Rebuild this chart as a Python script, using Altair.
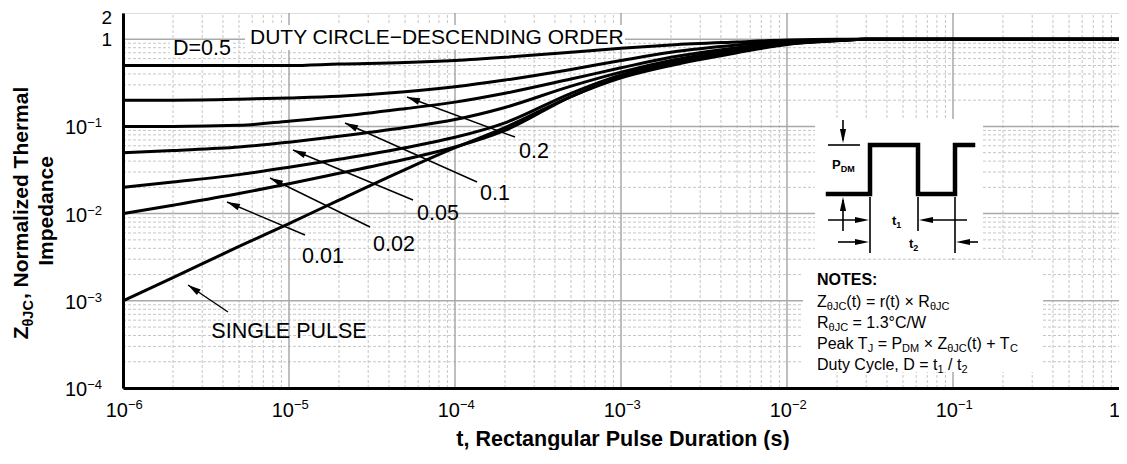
import math
import altair as alt
import pandas as pd

# ---------------- data ----------------
T = [1e-6, 2e-6, 5e-6, 1e-5, 2e-5, 5e-5, 1e-4, 2e-4, 5e-4, 1e-3, 2e-3, 5e-3, 1e-2, 2e-2, 3e-2, 1e-1, 1.0]
Z_D050 = [0.5, 0.5, 0.5, 0.5, 0.52, 0.54, 0.57, 0.62, 0.71, 0.79, 0.86, 0.93, 0.98, 1.0, 1.0, 1.0, 1.0]
Z_D020 = [0.2, 0.2, 0.205, 0.212, 0.222, 0.25, 0.285, 0.34, 0.45, 0.57, 0.71, 0.86, 0.95, 0.99, 1.0, 1.0, 1.0]
Z_D010 = [0.1, 0.1, 0.103, 0.115, 0.13, 0.16, 0.19, 0.24, 0.35, 0.47, 0.62, 0.80, 0.92, 0.98, 1.0, 1.0, 1.0]
Z_D005 = [0.05, 0.053, 0.058, 0.066, 0.077, 0.097, 0.12, 0.165, 0.29, 0.42, 0.57, 0.77, 0.90, 0.975, 1.0, 1.0, 1.0]
Z_D002 = [0.02, 0.023, 0.028, 0.034, 0.042, 0.057, 0.075, 0.11, 0.24, 0.39, 0.54, 0.74, 0.89, 0.97, 1.0, 1.0, 1.0]
Z_D001 = [0.01, 0.0125, 0.017, 0.022, 0.029, 0.042, 0.058, 0.09, 0.22, 0.37, 0.52, 0.72, 0.88, 0.965, 1.0, 1.0, 1.0]
Z_SINGLE = [0.001, 0.00185, 0.0042, 0.0077, 0.0143, 0.032, 0.057, 0.097, 0.22, 0.36, 0.50, 0.70, 0.87, 0.96, 1.0, 1.0, 1.0]
SERIES = ["0.5", "0.2", "0.1", "0.05", "0.02", "0.01", "single"]
SERIES_Z = [Z_D050, Z_D020, Z_D010, Z_D005, Z_D002, Z_D001, Z_SINGLE]

X_TICK_VALUES = [1e-6, 1e-5, 1e-4, 1e-3, 1e-2, 1e-1, 1.0]
X_TICK_EXP = ["\u22126", "\u22125", "\u22124", "\u22123", "\u22122", "\u22121", ""]
Y_TICK_VALUES = [1e-4, 1e-3, 1e-2, 1e-1, 1.0, 2.0]
Y_TICK_EXP = ["\u22124", "\u22123", "\u22122", "\u22121", "", ""]

ANNOT_LABELS = ["0.2", "0.1", "0.05", "0.02", "0.01", "SINGLE PULSE"]

# ---------------- layout ----------------
FONT = "Liberation Sans"
PAGE_LEFT, PAGE_TOP = 123, 13
W, H = 996, 375
PAD_LEFT = PAGE_LEFT - 8
XMIN, XMAX = 1e-6, 1.0
YMIN, YMAX = 1e-4, 2.0
LX0, LX1 = math.log10(XMIN), math.log10(XMAX)
LY0, LY1 = math.log10(YMIN), math.log10(YMAX)


def to_t(px):
    return 10 ** (LX0 + (LX1 - LX0) * (px - PAGE_LEFT) / W)


def to_z(py):
    return 10 ** (LY1 - (LY1 - LY0) * (py - PAGE_TOP) / H)


def px_of_t(t):
    return PAGE_LEFT + W * (math.log10(t) - LX0) / (LX1 - LX0)


def py_of_z(z):
    return PAGE_TOP + H * (LY1 - math.log10(z)) / (LY1 - LY0)


REG_W = {' ': 278, '(': 333, ')': 333, '+': 584, ',': 278, '-': 333, '.': 278, '/': 278, ':': 278,
         '=': 584, '\u00b0': 400, '\u00d7': 584, '\u2212': 584, '\u03b8': 556}
REG_W.update({c: w for c, w in zip("ABCDEFGHIJKLMNOPQRSTUVWXYZ",
             [667, 667, 722, 722, 667, 611, 778, 722, 278, 500, 667, 556, 833, 722, 778, 667, 778, 722, 667, 611, 722, 667, 944, 667, 667, 611])})
REG_W.update({c: w for c, w in zip("abcdefghijklmnopqrstuvwxyz",
             [556, 556, 500, 556, 556, 278, 556, 556, 222, 222, 500, 222, 833, 556, 556, 556, 556, 333, 500, 278, 556, 500, 722, 500, 500, 500])})
BOLD_W = {' ': 278, '(': 333, ')': 333, ',': 278, ':': 333, '\u03b8': 611}
BOLD_W.update({c: w for c, w in zip("ABCDEFGHIJKLMNOPQRSTUVWXYZ",
              [722, 722, 722, 722, 667, 611, 778, 722, 278, 556, 722, 611, 833, 722, 778, 667, 778, 722, 667, 611, 722, 667, 944, 667, 667, 611])})
BOLD_W.update({c: w for c, w in zip("abcdefghijklmnopqrstuvwxyz",
              [556, 611, 556, 611, 556, 333, 611, 611, 278, 278, 556, 278, 889, 611, 611, 611, 611, 389, 556, 333, 611, 556, 778, 556, 556, 500])})


def text_width(s, fs, bold=False):
    table = BOLD_W if bold else REG_W
    return sum(table.get(c, 556) for c in s) * fs / 1000.0


TEXT_ROWS = {k: [] for k in ["reg_left", "reg_right", "reg_center", "bold_left", "bold_center",
                              "bold_rot_left", "bold_rot_center"]}


def add_text(key, px, py, text, fs):
    TEXT_ROWS[key].append(dict(t=to_t(px), z=to_z(py), text=text, fs=fs))


def add_segments(key, x0, base, segs, bold=False):
    x = x0
    for txt, fs, dy in segs:
        lead = len(txt) - len(txt.lstrip(' '))
        body = txt.strip(' ')
        if body:
            add_text(key, x + text_width(' ' * lead, fs, bold), base + dy, body, fs)
        x += text_width(txt, fs, bold)


# ---- tick labels ----
for v, e in zip(X_TICK_VALUES, X_TICK_EXP):
    px = px_of_t(v)
    if e:
        add_text("reg_right", px + 5, 417, "10", 20)
        add_text("reg_left", px + 5, 409, e, 13)
    else:
        add_text("reg_right", px + 1, 417, "1", 20)
for v, e in zip(Y_TICK_VALUES, Y_TICK_EXP):
    py = py_of_z(v)
    if e:
        add_text("reg_right", 102 - text_width(e, 13), py + 8, "10", 20)
        add_text("reg_right", 102, py + 1, e, 13)
    else:
        add_text("reg_right", 112, py + (11 if v == 2.0 else 7), "1" if v == 1.0 else "2", 19)

# ---- axis titles ----
add_text("bold_center", 623, 446, "t, Rectangular Pulse Duration (s)", 21.5)
ytitle = [("Z", 21, 0), ("\u03b8JC", 14.5, 5), (", Normalized Thermal", 21, 0)]
total = sum(text_width(s, f, True) for s, f, _ in ytitle)
yy = 213 + total / 2
for s, f, d in ytitle:
    add_text("bold_rot_left", 28 + d, yy, s, f)
    yy -= text_width(s, f, True)
add_text("bold_rot_center", 53, 211, "Impedance", 21)

# ---- curve annotations ----
AF = 21.5
add_text("reg_left", 173, 55, "D=0.5", AF)
add_text("reg_left", 250, 44, "DUTY CIRCLE\u2212DESCENDING ORDER", 21)
LABEL_POS = [(534, 158), (495, 200), (438, 220), (394, 251), (323, 263), (289, 338)]
for lab, (lx, ly) in zip(ANNOT_LABELS, LABEL_POS):
    add_text("reg_center", lx, ly, lab, AF)
ARROWS = [((515, 137), (407, 97)), ((477, 182), (345, 123)), ((413, 200), (293, 150)),
          ((370, 227), (270, 178)), ((305, 235), (227, 202)), ((228, 312), (188, 285))]

# ---- notes ----
add_text("bold_left", 817, 285, "NOTES:", 16)
R, S = 16, 11
add_segments("reg_left", 817, 307, [("Z", R, 0), ("\u03b8JC", S, 3), ("(t) = r(t) \u00d7 R", R, 0), ("\u03b8JC", S, 3)])
add_segments("reg_left", 817, 328, [("R", R, 0), ("\u03b8JC", S, 3), (" = 1.3\u00b0C/W", R, 0)])
add_segments("reg_left", 817, 349, [("Peak T", R, 0), ("J", S, 3), (" = P", R, 0), ("DM", S, 3),
                                     (" \u00d7 Z", R, 0), ("\u03b8JC", S, 3), ("(t) + T", R, 0), ("C", S, 3)])
add_segments("reg_left", 817, 370, [("Duty Cycle, D = t", R, 0), ("1", S, 3), (" / t", R, 0), ("2", S, 3)])

# ---- pulse diagram labels ----
add_segments("bold_left", 832, 169, [("P", 13, 0), ("DM", 9, 3)], True)
add_segments("bold_left", 892, 225, [("t", 13, 0), ("1", 9, 3)], True)
add_segments("bold_left", 909, 248, [("t", 13, 0), ("2", 9, 3)], True)

WAVE = [(828, 194), (870, 194), (870, 145), (918, 145), (918, 194), (955, 194), (955, 145), (973, 145)]
DIAG_RULES = [((828, 145), (860, 145)), ((843, 120), (843, 140)), ((843, 200), (843, 231)),
              ((870, 197), (870, 253)), ((918, 197), (918, 231)), ((955, 197), (955, 253)),
              ((828, 220), (864, 220)), ((924, 220), (967, 220)),
              ((838, 242), (864, 242)), ((961, 242), (978, 242))]
DIAG_HEADS = [((843, 143), 90), ((843, 197), 270), ((869, 220), 0), ((919, 220), 180),
              ((869, 242), 0), ((956, 242), 180)]

WHITE_BOXES = [((170, 40), (233, 57)), ((245, 25), (625, 50)), ((815, 119), (983, 258)), ((803, 260), (1043, 372))]

# ---------------- encodings ----------------
XS = alt.Scale(type="log", domain=[XMIN, XMAX], nice=False)
YS = alt.Scale(type="log", domain=[YMIN, YMAX], nice=False)
XAX = alt.Axis(labels=False, ticks=False, grid=False, domain=True, domainColor="black",
               domainWidth=3, title=None, zindex=1)
YAX = alt.Axis(labels=False, ticks=False, grid=False, domain=True, domainColor="black",
               domainWidth=3, title=None, zindex=1)
XE = alt.X("t:Q", scale=XS, axis=XAX)
YE = alt.Y("z:Q", scale=YS, axis=YAX)

# grid
minor_rows, major_rows = [], []
for d in range(-6, 0):
    for m in range(2, 10):
        minor_rows.append(dict(t=m * 10 ** d, t2=m * 10 ** d, z=YMIN, z2=YMAX))
    major_rows.append(dict(t=10 ** d, t2=10 ** d, z=YMIN, z2=YMAX))
for d in range(-4, 0):
    for m in range(2, 10):
        minor_rows.append(dict(t=XMIN, t2=XMAX, z=m * 10 ** d, z2=m * 10 ** d))
    major_rows.append(dict(t=XMIN, t2=XMAX, z=10 ** d, z2=10 ** d))
major_rows.append(dict(t=XMIN, t2=XMAX, z=1.0, z2=1.0))

minor = alt.Chart(pd.DataFrame(minor_rows)).mark_rule(color="#c6c6c6", strokeWidth=1, strokeDash=[3, 2]).encode(
    x=XE, x2="t2:Q", y=YE, y2="z2:Q")
major = alt.Chart(pd.DataFrame(major_rows)).mark_rule(color="#a9a9a9", strokeWidth=1.5).encode(
    x=XE, x2="t2:Q", y=YE, y2="z2:Q")

boxes = alt.Chart(pd.DataFrame([dict(t=to_t(a[0]), t2=to_t(b[0]), z=to_z(a[1]), z2=to_z(b[1]))
                                for a, b in WHITE_BOXES])).mark_rect(fill="white", stroke=None).encode(
    x=XE, x2="t2:Q", y=YE, y2="z2:Q")

curve_rows = []
for name, zs in zip(SERIES, SERIES_Z):
    for t, z in zip(T, zs):
        curve_rows.append(dict(series=name, t=t, z=z))
curves = alt.Chart(pd.DataFrame(curve_rows)).mark_line(color="black", strokeWidth=3, strokeJoin="round",
                                                       interpolate="monotone").encode(
    x=XE, y=YE, detail="series:N")

arrow_lines = alt.Chart(pd.DataFrame([dict(t=to_t(a[0]), t2=to_t(b[0]), z=to_z(a[1]), z2=to_z(b[1]))
                                      for a, b in ARROWS])).mark_rule(color="black", strokeWidth=1.4).encode(
    x=XE, x2="t2:Q", y=YE, y2="z2:Q")
ARROW_PATH = "M0,0L-1,-0.26L-1,0.26Z"
arrow_heads = alt.Chart(pd.DataFrame([dict(t=to_t(b[0]), z=to_z(b[1]),
                                           ang=math.degrees(math.atan2(b[1] - a[1], b[0] - a[0])) % 360)
                                      for a, b in ARROWS])).mark_point(
    shape=ARROW_PATH, filled=True, size=676, color="black", opacity=1, strokeWidth=0).encode(
    x=XE, y=YE, angle=alt.Angle("ang:Q", scale=None))

wave = alt.Chart(pd.DataFrame([dict(i=i, t=to_t(p[0]), z=to_z(p[1])) for i, p in enumerate(WAVE)])).mark_line(
    color="black", strokeWidth=4.5, strokeJoin="miter", strokeCap="square").encode(x=XE, y=YE, order="i:Q")
diag_rules = alt.Chart(pd.DataFrame([dict(t=to_t(a[0]), t2=to_t(b[0]), z=to_z(a[1]), z2=to_z(b[1]))
                                     for a, b in DIAG_RULES])).mark_rule(color="black", strokeWidth=1.6).encode(
    x=XE, x2="t2:Q", y=YE, y2="z2:Q")
diag_heads = alt.Chart(pd.DataFrame([dict(t=to_t(p[0]), z=to_z(p[1]), ang=a) for p, a in DIAG_HEADS])).mark_point(
    shape="M0,0L-1,-0.22L-1,0.22Z", filled=True, size=784, color="black", opacity=1, strokeWidth=0).encode(
    x=XE, y=YE, angle=alt.Angle("ang:Q", scale=None))


def text_layer(key, align, weight, angle=None):
    kw = dict(align=align, baseline="alphabetic", fontWeight=weight, font=FONT, color="black")
    if angle:
        kw["angle"] = angle
    return alt.Chart(pd.DataFrame(TEXT_ROWS[key])).mark_text(**kw).encode(
        x=XE, y=YE, text="text:N", size=alt.Size("fs:Q", scale=None, legend=None))


texts = [
    text_layer("reg_left", "left", "normal"),
    text_layer("reg_right", "right", "normal"),
    text_layer("reg_center", "center", "normal"),
    text_layer("bold_left", "left", "bold"),
    text_layer("bold_center", "center", "bold"),
    text_layer("bold_rot_left", "left", "bold", 270),
    text_layer("bold_rot_center", "center", "bold", 270),
]

chart = alt.layer(minor, major, boxes, curves, arrow_lines, arrow_heads, wave, diag_rules, diag_heads, *texts).properties(
    width=W, height=H,
    autosize=alt.AutoSizeParams(type="none"),
    padding={"left": PAD_LEFT, "top": 5, "right": 0, "bottom": 62},
).configure_view(stroke="black", strokeWidth=1.5).configure(background="white")

chart.save("out.html", embed_options={"renderer": "svg", "actions": False})
